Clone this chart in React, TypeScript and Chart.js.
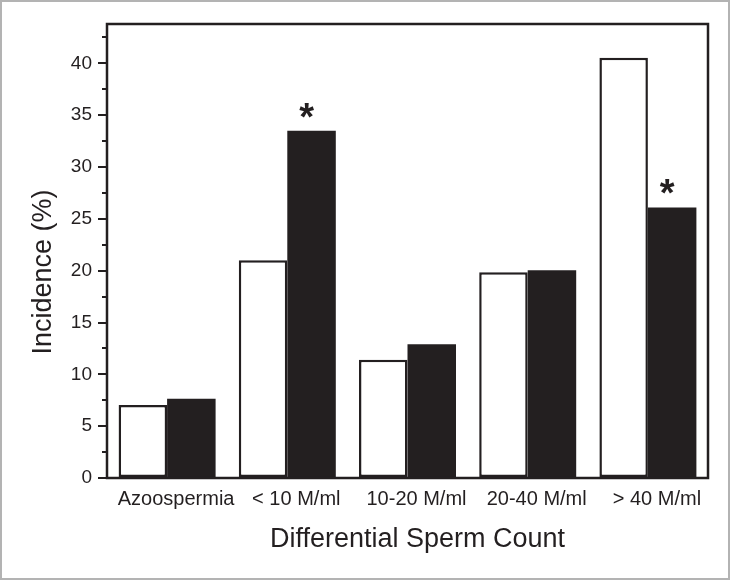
import React, { useEffect, useRef } from "react";
import { Chart, registerables } from "chart.js";

Chart.register(...registerables);

const categories = ["Azoospermia", "< 10 M/ml", "10-20 M/ml", "20-40 M/ml", "> 40 M/ml"];
const whiteSeries = [7.05, 21.0, 11.4, 19.85, 40.55];
const blackSeries = [7.65, 33.5, 12.9, 20.05, 26.1];
const starredBlack = [1, 4];
const yMajorTicks = [0, 5, 10, 15, 20, 25, 30, 35, 40];
const yMinorTicks = [2.5, 7.5, 12.5, 17.5, 22.5, 27.5, 32.5, 37.5, 42.5];
const xTitle = "Differential Sperm Count";
const yTitle = "Incidence (%)";

const INK = "#231f20";
const FONT = "'Liberation Sans', Arial, sans-serif";

const decorPlugin = {
  id: "decor",
  beforeDraw(chart: any) {
    const ctx = chart.ctx;
    ctx.save();
    ctx.fillStyle = "#ffffff";
    ctx.fillRect(0, 0, chart.width, chart.height);
    ctx.strokeStyle = "#b3b3b3";
    ctx.lineWidth = 2;
    ctx.strokeRect(1, 1, chart.width - 2, chart.height - 2);
    ctx.restore();
  },
  afterDraw(chart: any) {
    const ctx = chart.ctx;
    const a = chart.chartArea;
    const y = chart.scales.y;
    ctx.save();
    ctx.strokeStyle = INK;
    ctx.lineWidth = 2;
    yMinorTicks.forEach((v) => {
      const py = Math.round(y.getPixelForValue(v));
      ctx.beginPath();
      ctx.moveTo(a.left - 5, py);
      ctx.lineTo(a.left, py);
      ctx.stroke();
    });
    ctx.lineWidth = 2.5;
    ctx.strokeRect(a.left, a.top, a.right - a.left, a.bottom - a.top);
    ctx.fillStyle = INK;
    ctx.font = `bold 38px ${FONT}`;
    ctx.textAlign = "center";
    ctx.textBaseline = "alphabetic";
    const meta = chart.getDatasetMeta(1);
    const m = ctx.measureText("*");
    starredBlack.forEach((i) => {
      const bar = meta.data[i];
      const base = bar.y - 13 - m.actualBoundingBoxDescent;
      ctx.fillText("*", bar.x - 5, base);
    });
    ctx.font = `27px ${FONT}`;
    ctx.textBaseline = "middle";
    ctx.fillText(xTitle, (a.left + a.right) / 2 + 10, 540);
    ctx.translate(44, (a.top + a.bottom) / 2 + 21);
    ctx.rotate(-Math.PI / 2);
    ctx.fillText(yTitle, 0, 0);
    ctx.restore();
  },
};

export default function App() {
  const ref = useRef<HTMLCanvasElement | null>(null);
  useEffect(() => {
    const canvas = ref.current;
    if (!canvas) return;
    const chart = new Chart(canvas, {
      type: "bar",
      data: {
        labels: categories,
        datasets: [
          {
            label: "white",
            data: whiteSeries,
            backgroundColor: "#ffffff",
            borderColor: INK,
            borderWidth: 2.5,
            borderSkipped: false,
          },
          {
            label: "black",
            data: blackSeries,
            backgroundColor: INK,
            borderColor: INK,
            borderWidth: 0,
          },
        ],
      },
      options: {
        responsive: false,
        animation: false,
        devicePixelRatio: 1,
        layout: { padding: { top: 24, right: 22, left: 0, bottom: 0 } },
        plugins: {
          legend: { display: false },
          tooltip: { enabled: false },
          title: { display: false },
        },
        datasets: { bar: { categoryPercentage: 0.807, barPercentage: 1 } },
        scales: {
          x: {
            afterFit: (s: any) => {
              s.height = 102;
            },
            grid: { display: false },
            border: { display: false },
            ticks: {
              color: INK,
              font: { family: FONT, size: 20 },
              padding: 1,
              labelOffset: 9,
              maxRotation: 0,
              autoSkip: false,
            },
          },
          y: {
            min: 0,
            max: 43.8,
            afterFit: (s: any) => {
              s.width = 107;
            },
            afterBuildTicks: (s: any) => {
              s.ticks = yMajorTicks.map((v) => ({ value: v }));
            },
            grid: {
              drawOnChartArea: false,
              drawTicks: true,
              tickLength: 9,
              color: INK,
              lineWidth: 2,
            },
            border: { display: false },
            ticks: {
              color: INK,
              font: { family: FONT, size: 19 },
              padding: 6,
            },
          },
        },
      },
      plugins: [decorPlugin],
    });
    return () => chart.destroy();
  }, []);
  return (
    <div style={{ position: "absolute", left: 0, top: 0, width: 730, height: 580 }}>
      <canvas ref={ref} width={730} height={580} style={{ display: "block" }} />
    </div>
  );
}
